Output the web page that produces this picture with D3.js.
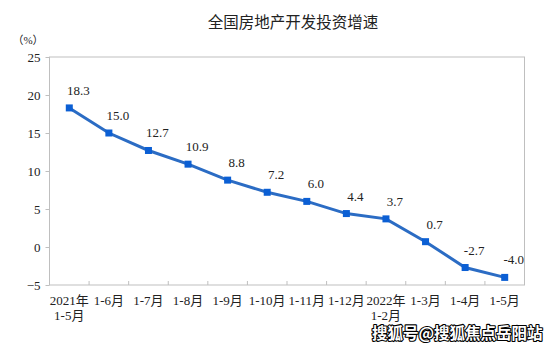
<!DOCTYPE html>
<html><head><meta charset="utf-8">
<script src="https://cdn.jsdelivr.net/npm/d3@7"></script>
<style>body{margin:0;background:#fff;}svg{display:block;}</style>
</head><body>
<svg id="c" width="556" height="348"></svg>
<script>
const categories = [["2021年","1-5月"],["1-6月"],["1-7月"],["1-8月"],["1-9月"],["1-10月"],["1-11月"],["1-12月"],["2022年","1-2月"],["1-3月"],["1-4月"],["1-5月"]];
const values = [18.3, 15.0, 12.7, 10.9, 8.8, 7.2, 6.0, 4.4, 3.7, 0.7, -2.7, -4.0];
const yTicks = [-5, 0, 5, 10, 15, 20, 25];
const title = "全国房地产开发投资增速";
const unit = "（%）";
const watermark = "搜狐号@搜狐焦点岳阳站";

const svg = d3.select("#c");
const L = 49.5, R = 524.5, T = 57, B = 285;
const serif = "'Liberation Serif','Times New Roman','Noto Sans CJK SC',serif";

const x = d3.scaleBand().domain(d3.range(categories.length)).range([L, R]);
const y = d3.scaleLinear().domain([-5, 25]).range([B, T]);

// frame
svg.append("rect").attr("x", L).attr("y", T).attr("width", R - L).attr("height", B - T)
  .attr("fill", "none").attr("stroke", "#bfbfbf").attr("stroke-width", 1);

// y axis
const ya = svg.append("g").attr("transform", `translate(${L},0)`)
  .call(d3.axisLeft(y).tickValues(yTicks).tickSize(4).tickPadding(5));
ya.select(".domain").remove();
ya.selectAll("line").attr("stroke", "#bfbfbf");
ya.selectAll("text").attr("font-family", serif).attr("font-size", 13).attr("fill", "#222");

// x axis ticks (boundaries)
const bounds = d3.range(1, categories.length).map(i => x(i));
svg.append("g").selectAll("line").data(bounds).join("line")
  .attr("x1", d => d).attr("x2", d => d).attr("y1", B).attr("y2", B - 4)
  .attr("stroke", "#bfbfbf");

// x labels
const xl = svg.append("g").selectAll("text").data(categories).join("text")
  .attr("x", (d, i) => x(i) + x.bandwidth() / 2)
  .attr("y", 304.5)
  .attr("text-anchor", "middle")
  .attr("font-family", serif).attr("font-size", 13).attr("fill", "#222");
xl.each(function(d) {
  const t = d3.select(this);
  d.forEach((s, k) => t.append("tspan").attr("x", t.attr("x")).attr("dy", k ? 15 : 0).text(s));
});

// line
const cx = i => x(i) + x.bandwidth() / 2;
svg.append("path").datum(values)
  .attr("d", d3.line().x((d, i) => cx(i)).y(d => y(d)))
  .attr("fill", "none").attr("stroke", "#2b6cc4").attr("stroke-width", 3);

svg.append("g").selectAll("rect").data(values).join("rect")
  .attr("x", (d, i) => cx(i) - 3.5).attr("y", d => y(d) - 3.5)
  .attr("width", 7).attr("height", 7).attr("fill", "#0b5fd4");

// value labels
svg.append("g").selectAll("text").data(values).join("text")
  .attr("x", (d, i) => cx(i) + 9)
  .attr("y", d => y(d) - 13)
  .attr("text-anchor", "middle")
  .attr("font-family", serif).attr("font-size", 13).attr("fill", "#222")
  .text(d => d.toFixed(1));

// title
svg.append("text").attr("x", 293).attr("y", 27.5).attr("text-anchor", "middle")
  .attr("font-family", "'Noto Sans CJK SC',sans-serif").attr("font-size", 15.5).attr("fill", "#222")
  .text(title);

// unit
svg.append("text").attr("x", 28).attr("y", 43.5).attr("text-anchor", "middle")
  .attr("font-family", serif).attr("font-size", 11).attr("fill", "#222")
  .text(unit);

// watermark
svg.append("text").attr("x", 372).attr("y", 339).attr("text-anchor", "start")
  .attr("font-family", "'Noto Sans CJK SC',sans-serif").attr("font-size", 15.5).attr("font-weight", "bold")
  .attr("fill", "#fff").attr("stroke", "#000").attr("stroke-width", 2.2).attr("paint-order", "stroke")
  .attr("stroke-linejoin", "round")
  .text(watermark);
</script>
</body></html>
